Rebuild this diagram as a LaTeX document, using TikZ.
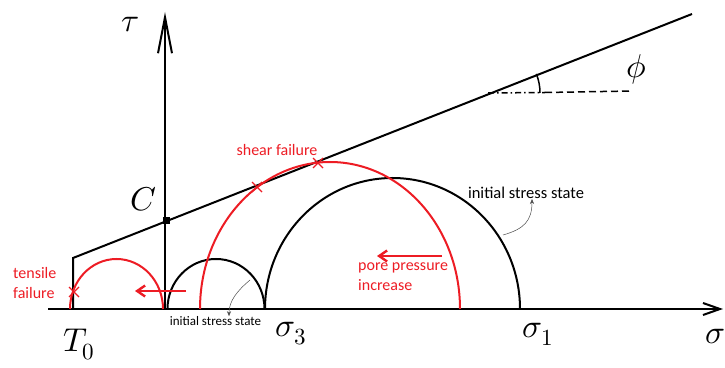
\documentclass[tikz,border=0pt]{standalone}
\usepackage{fontspec}
\usepackage{unicode-math}
\setmainfont{Carlito}
\setmathfont{Latin Modern Math}
\usetikzlibrary{arrows.meta, positioning, calc}
\definecolor{paintred}{RGB}{237,28,36}
\tikzstyle{axis} = [line width=2pt, black]
\tikzstyle{envelope} = [line width=2pt, black]
\tikzstyle{blackcircle} = [line width=2pt, black]
\tikzstyle{redcircle} = [line width=2pt, paintred]
\tikzstyle{redarrow} = [-{Straight Barb[length=8pt,width=11pt]}, line width=2.4pt, paintred]
\tikzstyle{cross} = [line width=1.4pt, paintred]
\tikzstyle{pointer} = [-{Stealth[length=5pt,width=4pt]}, line width=0.5pt, black!70]
\tikzstyle{mathlabel} = [font=\fontsize{33}{36}\selectfont, inner sep=0pt]
\tikzstyle{rednote} = [font=\fontsize{16}{20}\selectfont, text=paintred, align=left, inner sep=0pt]
\tikzstyle{blacknote} = [font=\fontsize{16.5}{18}\selectfont, inner sep=0pt]

\begin{document}
\begin{tikzpicture}[x=1pt, y=1pt]
    \useasboundingbox (0,0) rectangle (725,367);

    % Axes
    \coordinate (origin) at (48,58);
    \coordinate (sigmaend) at (723,58);
    \coordinate (taubase) at (165,58);
    \coordinate (tauend) at (165,355);
    \draw [axis, -{Straight Barb[length=17pt,width=12pt]}] (origin) -- (sigmaend);
    \draw [axis, -{Straight Barb[length=36pt,width=14pt]}] (taubase) -- (tauend);

    % Failure envelope
    \coordinate (tcut) at (73,58);
    \coordinate (corner) at (73,109);
    \coordinate (envend) at (692,353);
    \draw [envelope] (tcut) -- (corner) -- (envend);
    \coordinate (cpoint) at (166,146);
    \fill (cpoint) ++(-3.5,-3.5) rectangle ++(7,7);

    % Friction angle
    \coordinate (phibase) at (488,274);
    \coordinate (phimid) at (545,274.5);
    \coordinate (phiend) at (632,276);
    \draw [line width=1.5pt, dash pattern=on 6pt off 3pt on 1.5pt off 3pt] (phibase) -- (phimid);
    \draw [line width=1.5pt, dash pattern=on 7pt off 4pt] (phimid) -- (phiend);
    \draw [line width=1.5pt] ($(phibase)+(52,0)$) arc[start angle=0, end angle=21.5, radius=52];

    % Mohr circles
    \draw [blackcircle] (167.5,58) arc[start angle=180, end angle=0, x radius=48.5, y radius=50];
    \draw [blackcircle] (265,58) arc[start angle=180, end angle=0, x radius=127.5, y radius=131];
    \draw [redcircle] (200,58) arc[start angle=180, end angle=0, x radius=130, y radius=147];
    \draw [redcircle] (70,58) arc[start angle=180, end angle=0, x radius=46.5, y radius=50];

    % Failure marks
    \foreach \pt in {(74,75), (257,180), (318,204)} {
        \draw [cross] \pt ++(-5,-5) -- ++(10,10);
        \draw [cross] \pt ++(-5,5) -- ++(10,-10);
    }

    % Shift arrows
    \coordinate (tensfrom) at (186,76);
    \coordinate (tensto) at (135,76);
    \draw [redarrow] (tensfrom) -- (tensto);
    \coordinate (porefrom) at (442,111);
    \coordinate (poreto) at (377,111);
    \draw [redarrow] (porefrom) -- (poreto);

    % Labels
    \node (tau) [mathlabel] at (130,342) {$\tau$};
    \node (sigma) [mathlabel, anchor=east] at (725,30) {$\sigma$};
    \node (clabel) [mathlabel] at (144,168) {$C$};
    \node (phi) [mathlabel] at (636,298) {$\phi$};
    \node (tzero) [mathlabel] at (79,22) {$T_0$};
    \node (sthree) [mathlabel] at (291,33) {$\sigma_3$};
    \node (sone) [mathlabel] at (538,33) {$\sigma_1$};

    \node (tensile) [rednote, anchor=west] at (13,84) {tensile\\failure};
    \node (shear) [rednote] at (277,217) {shear failure};
    \node (pore) [rednote, anchor=west] at (358,90) {pore pressure\\increase};

    \node (initbig) [blacknote] at (526,174) {initial stress state};
    \node (initsmall) [blacknote, font=\fontsize{13}{15}\selectfont] at (215.5,46) {initial stress state};

    % Pointers to the initial states
    \coordinate (bigon) at (503,132);
    \coordinate (smallon) at (250,87);
    \draw [pointer] (bigon) .. controls (524,138) and (532,146) .. (initbig.south -| 532,0);
    \draw [pointer] (smallon) .. controls (237,76) and (229,66) .. (initsmall.north -| 229,0);
\end{tikzpicture}
\end{document}
